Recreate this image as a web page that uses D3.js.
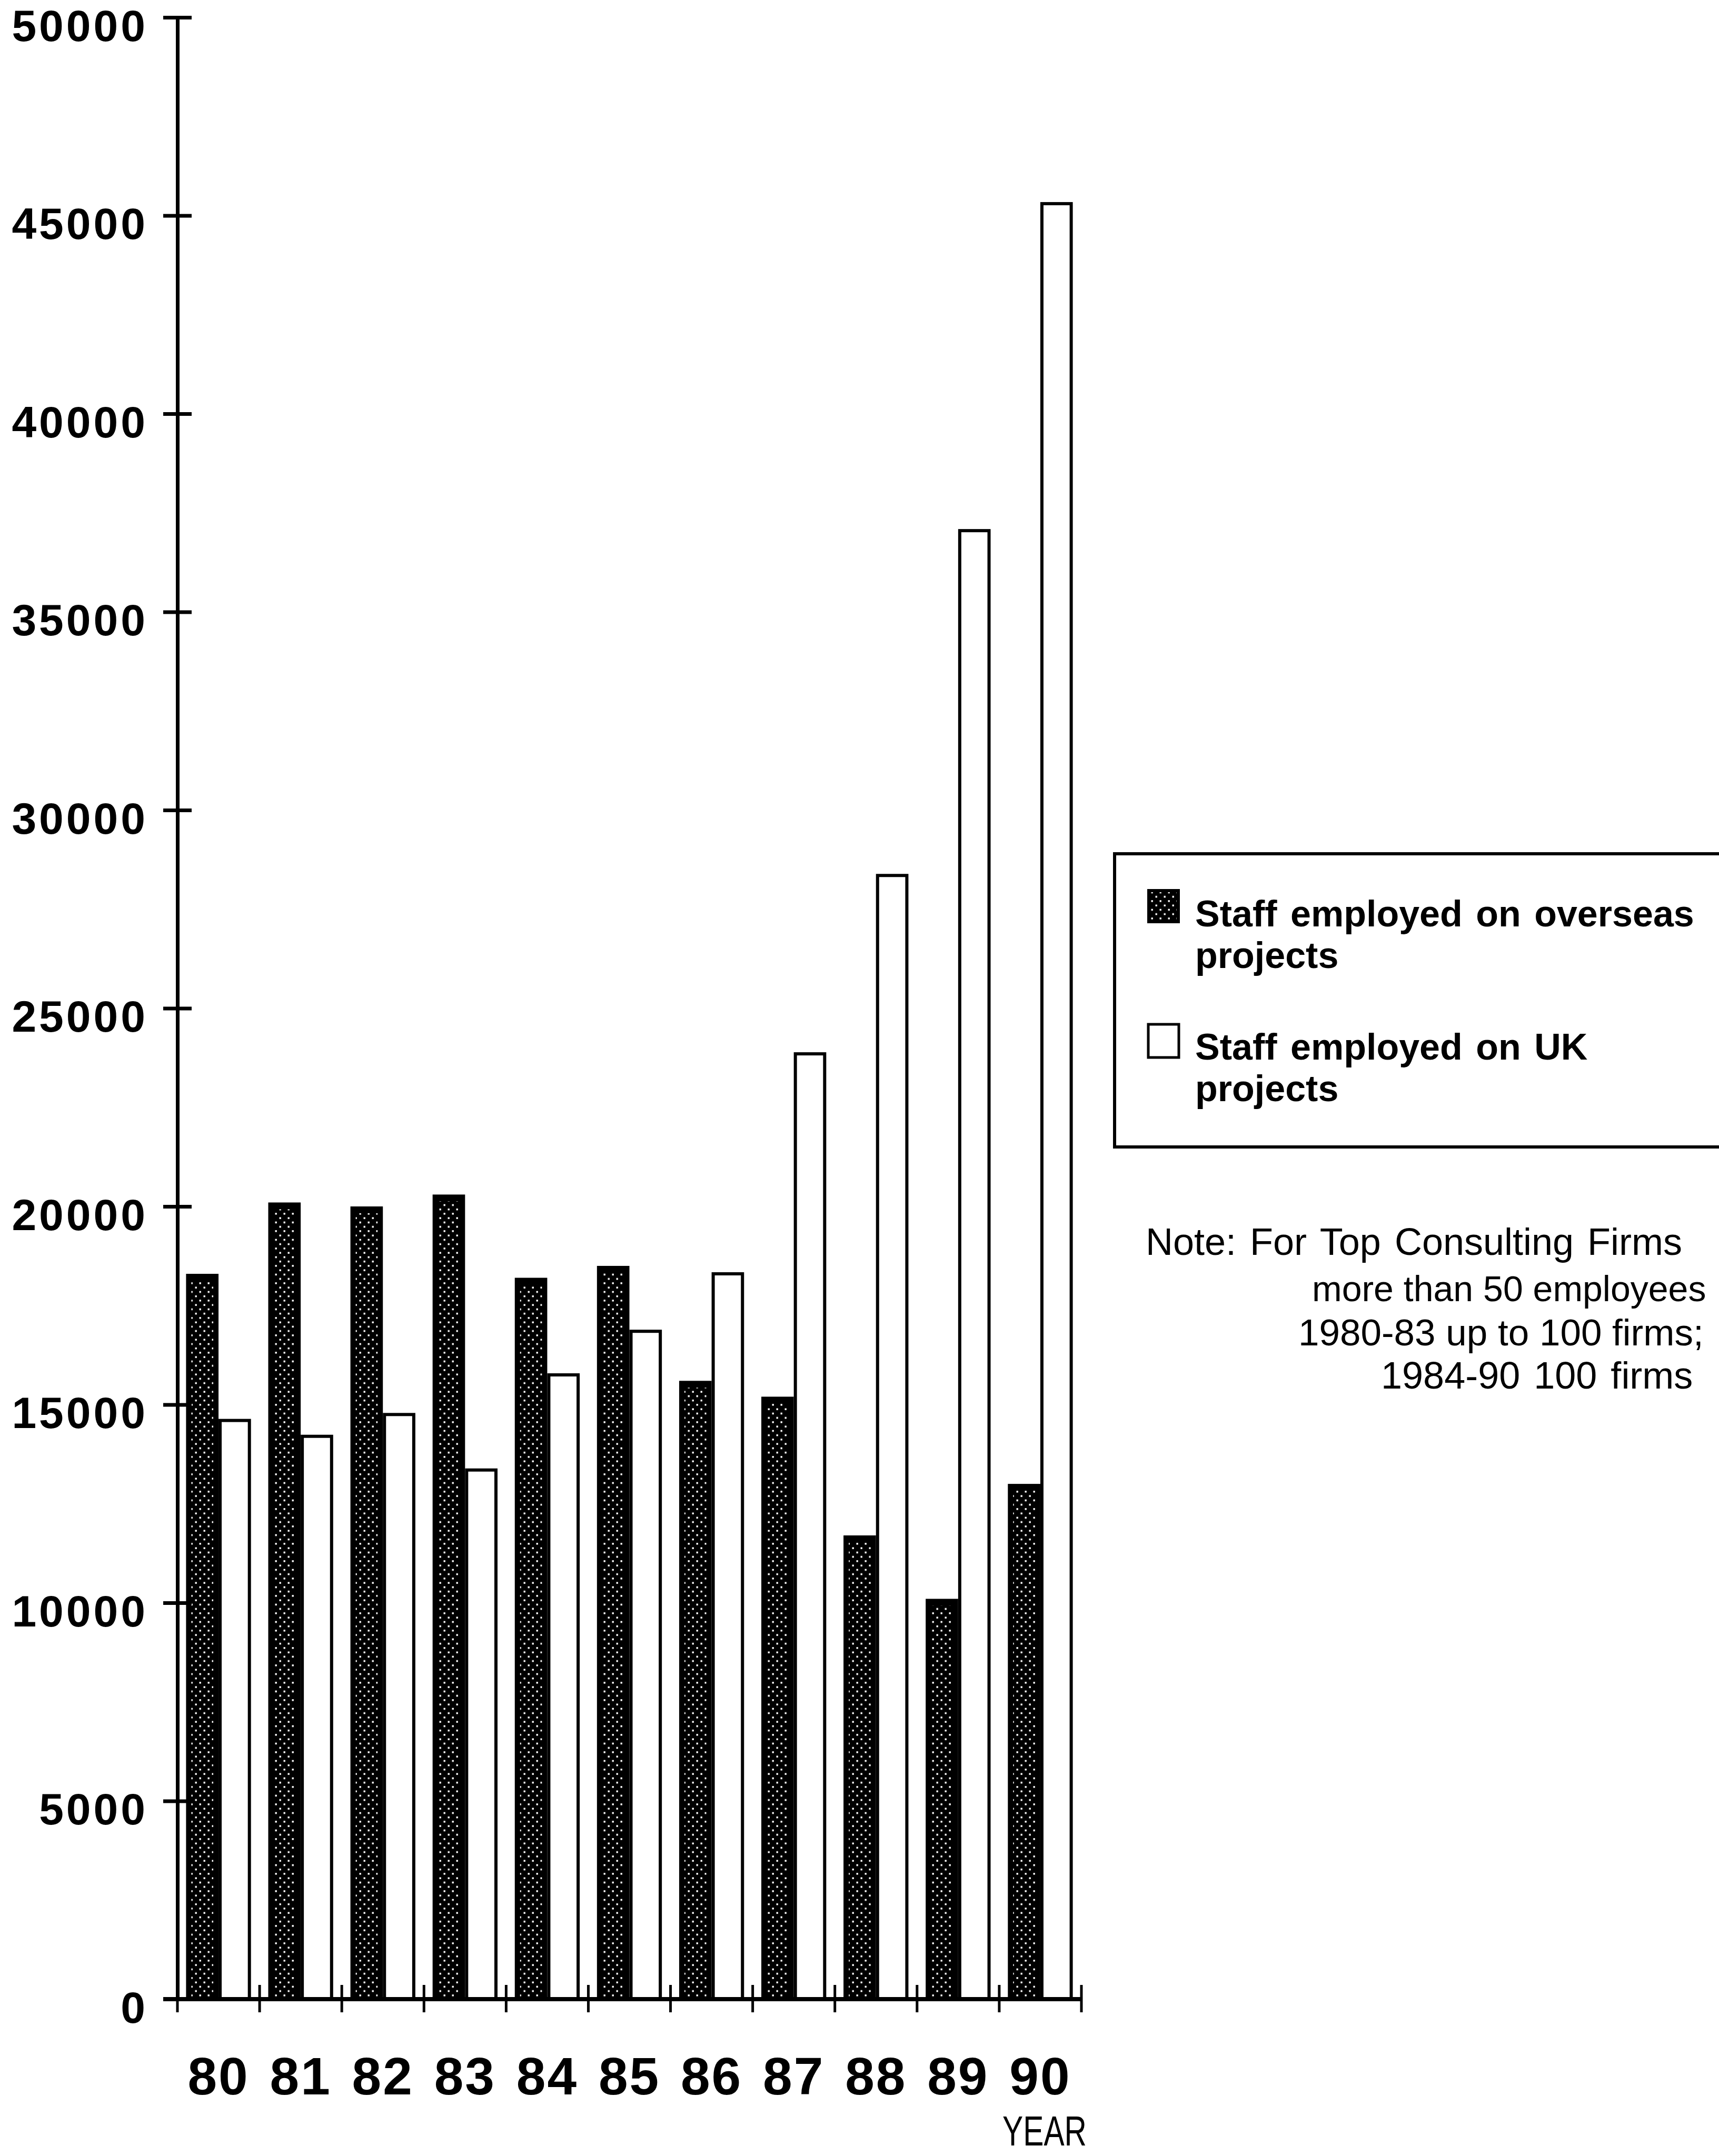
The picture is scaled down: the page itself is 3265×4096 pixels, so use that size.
<!DOCTYPE html>
<html>
<head>
<meta charset="utf-8">
<script src="https://cdn.jsdelivr.net/npm/d3@7"></script>
<style>
	body { margin: 0; background: #fff; }
	svg { display: block; }
</style>
</head>
<body>
<svg id="chart"></svg>
<script>
// values
const years = ['80', '81', '82', '83', '84', '85', '86', '87', '88', '89', '90'];
const overseas = [18300, 20100, 20000, 20300, 18200, 18500, 15600, 15200, 11700, 10100, 13000];
const uk = [14600, 14200, 14750, 13350, 15750, 16850, 18300, 23850, 28350, 37050, 45300];
const yTicks = [0, 5000, 10000, 15000, 20000, 25000, 30000, 35000, 40000, 45000, 50000];
const seriesNames = ['overseas', 'uk'];
const legendLabels = [
	['Staff employed on overseas', 'projects'],
	['Staff employed on UK', 'projects']
];
const noteLines = [
	'Note: For Top Consulting Firms',
	'more than 50 employees',
	'1980-83 up to 100 firms;',
	'1984-90 100 firms'
];

function makeChart() {
	let w = 3265;
	let h = 4096;
	let axisX = 337;
	let baseY = 3798;
	let topY = 33;
	let endX = 2054;

	let chart = d3.select('#chart')
		.attr('width', w)
		.attr('height', h);

	// stipple fill for the dark bars
	let defs = chart.append('defs');
	let pat = defs.append('pattern')
		.attr('id', 'stipple')
		.attr('patternUnits', 'userSpaceOnUse')
		.attr('width', 16)
		.attr('height', 16.5);
	pat.append('rect').attr('width', 16).attr('height', 16.5).attr('fill', '#000');
	pat.append('rect').attr('x', 2.5).attr('y', 2.5).attr('width', 3.4).attr('height', 3.4).attr('fill', '#fff');
	pat.append('rect').attr('x', 10.5).attr('y', 10.7).attr('width', 3.4).attr('height', 3.4).attr('fill', '#fff');

	var x = d3.scaleBand()
		.domain(years)
		.range([axisX, endX])
		.paddingInner(0.21)
		.paddingOuter(0.105);

	var xSub = d3.scaleBand()
		.domain(seriesNames)
		.range([0, x.bandwidth()]);

	var y = d3.scaleLinear()
		.domain([0, 50000])
		.range([baseY, topY]);

	let rows = years.map((yr, i) => ({ year: yr, overseas: overseas[i], uk: uk[i] }));

	// dark bars: solid black frame with stippled inside
	let dark = chart.append('g');
	dark.selectAll('rect.outer')
		.data(rows)
		.enter()
		.append('rect')
		.attr('class', 'outer')
		.attr('x', d => x(d.year) + xSub('overseas'))
		.attr('y', d => y(d.overseas))
		.attr('width', xSub.bandwidth())
		.attr('height', d => baseY - y(d.overseas))
		.attr('fill', '#000');
	dark.selectAll('rect.inner')
		.data(rows)
		.enter()
		.append('rect')
		.attr('class', 'inner')
		.attr('x', d => x(d.year) + xSub('overseas') + 10)
		.attr('y', d => y(d.overseas) + 13)
		.attr('width', xSub.bandwidth() - 20)
		.attr('height', d => baseY - y(d.overseas) - 13)
		.attr('fill', 'url(#stipple)');

	// white bars
	chart.append('g')
		.selectAll('rect')
		.data(rows)
		.enter()
		.append('rect')
		.attr('x', d => x(d.year) + xSub('uk') + 3)
		.attr('y', d => y(d.uk))
		.attr('width', xSub.bandwidth() - 6)
		.attr('height', d => baseY - y(d.uk))
		.attr('fill', '#fff')
		.attr('stroke', '#000')
		.attr('stroke-width', 6);

	// y axis
	let yAxis = chart.append('g')
		.attr('transform', `translate(${axisX}, 0)`)
		.call(d3.axisLeft(y).tickValues(yTicks).tickSizeOuter(0).tickFormat(d3.format('d')));
	yAxis.select('.domain')
		.attr('stroke', '#000')
		.attr('stroke-width', 7);
	yAxis.selectAll('.tick line')
		.attr('x1', -27)
		.attr('x2', 27)
		.attr('stroke', '#000')
		.attr('stroke-width', 7);
	yAxis.selectAll('.tick text')
		.attr('x', -56)
		.attr('dy', 44)
		.attr('fill', '#000')
		.style('font-family', '"Liberation Sans", Arial, sans-serif')
		.style('font-weight', 'bold')
		.style('font-size', '84px')
		.style('letter-spacing', '5px');

	// x axis: base line, boundary ticks, year labels
	let step = x.step();
	let firstEdge = x(years[0]) - (step - x.bandwidth()) / 2;
	chart.append('line')
		.attr('x1', axisX - 27)
		.attr('x2', firstEdge + step * years.length)
		.attr('y1', baseY)
		.attr('y2', baseY)
		.attr('stroke', '#000')
		.attr('stroke-width', 8);
	chart.append('g')
		.selectAll('line')
		.data(years.concat(['end']))
		.enter()
		.append('line')
		.attr('x1', (d, i) => firstEdge + i * step)
		.attr('x2', (d, i) => firstEdge + i * step)
		.attr('y1', baseY - 27)
		.attr('y2', baseY + 25)
		.attr('stroke', '#000')
		.attr('stroke-width', 5);

	let xAxis = chart.append('g')
		.attr('transform', `translate(0, ${baseY})`)
		.call(d3.axisBottom(x).tickSize(0));
	xAxis.select('.domain').remove();
	xAxis.selectAll('.tick text')
		.attr('y', 181)
		.attr('dy', 0)
		.attr('fill', '#000')
		.style('font-family', '"Liberation Sans", Arial, sans-serif')
		.style('font-weight', 'bold')
		.style('font-size', '100px')
		.style('letter-spacing', '3px');

	chart.append('text')
		.attr('x', 2064)
		.attr('y', 4076)
		.attr('text-anchor', 'end')
		.attr('textLength', 160)
		.attr('lengthAdjust', 'spacingAndGlyphs')
		.style('font-family', '"Liberation Sans", Arial, sans-serif')
		.style('font-size', '80px')
		.text('YEAR');

	// legend box, running off the right edge like the scan
	let legend = chart.append('g');
	legend.append('rect')
		.attr('x', 2117)
		.attr('y', 1622)
		.attr('width', 1300)
		.attr('height', 557)
		.attr('fill', 'none')
		.attr('stroke', '#000')
		.attr('stroke-width', 6);
	legend.append('rect')
		.attr('x', 2179)
		.attr('y', 1689)
		.attr('width', 62)
		.attr('height', 65)
		.attr('fill', '#000');
	legend.append('rect')
		.attr('x', 2185)
		.attr('y', 1695)
		.attr('width', 50)
		.attr('height', 53)
		.attr('fill', 'url(#stipple)');
	legend.append('rect')
		.attr('x', 2181)
		.attr('y', 1946)
		.attr('width', 58)
		.attr('height', 63)
		.attr('fill', '#fff')
		.attr('stroke', '#000')
		.attr('stroke-width', 5);

	let legendY = [[1760, 1839], [2013, 2092]];
	legendLabels.forEach((lines, i) => {
		lines.forEach((t, j) => {
			legend.append('text')
				.attr('x', 2270)
				.attr('y', legendY[i][j])
				.style('font-family', '"Liberation Sans", Arial, sans-serif')
				.style('font-weight', 'bold')
				.style('font-size', '70px')
				.style('word-spacing', '6px')
				.text(t);
		});
	});

	// note under the legend; the long lines get a smaller size to stay inside the page
	let noteX = [2176, 2492, 2466, 2623];
	let noteY = [2384, 2472, 2556, 2638];
	let noteSize = [72, 68, 71, 72];
	let noteGap = [6, 0, 0, 6];
	chart.append('g')
		.selectAll('text')
		.data(noteLines)
		.enter()
		.append('text')
		.attr('x', (d, i) => noteX[i])
		.attr('y', (d, i) => noteY[i])
		.style('font-family', '"Liberation Sans", Arial, sans-serif')
		.style('font-size', (d, i) => noteSize[i] + 'px')
		.style('word-spacing', (d, i) => noteGap[i] + 'px')
		.text(d => d);
}

window.onload = function () {
	makeChart();
}
</script>
</body>
</html>
